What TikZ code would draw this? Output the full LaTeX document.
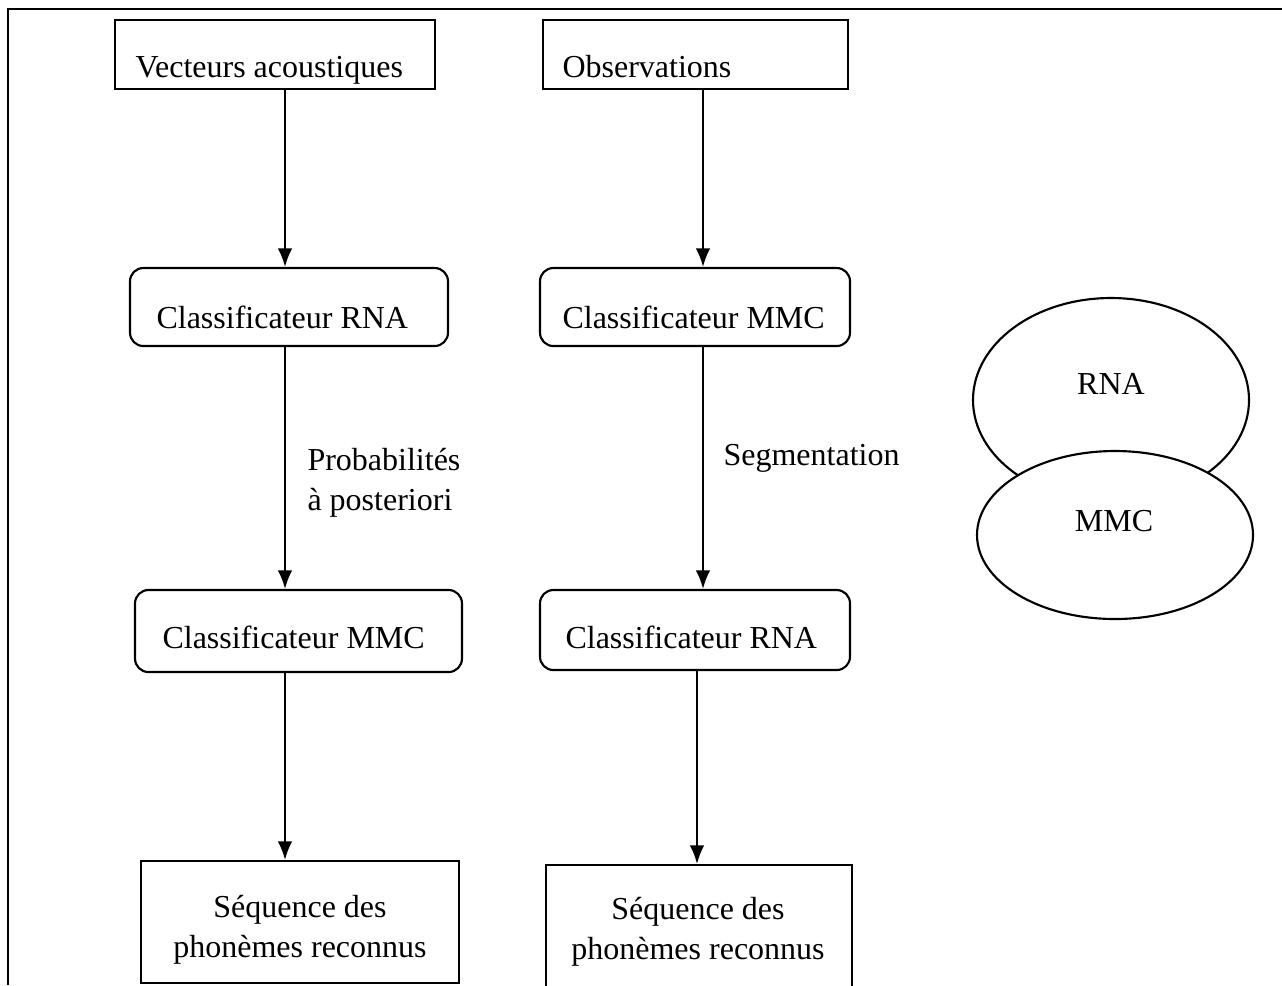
\documentclass[tikz,border=0pt]{standalone}
\usepackage{fontspec}
\setmainfont{Liberation Serif}
\usetikzlibrary{arrows.meta,positioning,shapes.geometric}

\tikzset{
  txt/.style={font=\fontsize{12}{15}\selectfont, inner sep=0pt},
  sqbox/.style={draw, line width=0.8pt, rectangle, inner sep=0pt},
  rndbox/.style={draw, line width=0.8pt, rectangle, rounded corners=5pt, inner sep=0pt},
  flow/.style={-{Latex[length=7pt,width=5.5pt]}, line width=0.8pt},
  oval/.style={draw, ellipse, line width=0.8pt, fill=white, inner sep=0pt},
}

\begin{document}
\begin{tikzpicture}[x=0.375pt, y=-0.375pt]
  \useasboundingbox (0,0) rectangle (1282,985);
  \clip (0,0) rectangle (1282,985);

  % frame
  \draw[line width=1.1pt] (1282,9) -- (8,9) -- (8,985);

  % top boxes
  \node[sqbox, minimum width=120pt, minimum height=26pt] (vec) at (275,54.5) {};
  \node[txt, anchor=base west] (vectxt) at (135,77) {Vecteurs acoustiques};
  \node[sqbox, minimum width=114.4pt, minimum height=26pt] (obs) at (695.5,54.5) {};
  \node[txt, anchor=base west] (obstxt) at (562,77) {Observations};

  % left column
  \coordinate (c1) at (285,0);
  \node[rndbox, minimum width=119.25pt, minimum height=29.25pt] (rna1) at (289,307) {};
  \node[txt, anchor=base west] (rna1txt) at (156,328) {Classificateur RNA};
  \node[rndbox, minimum width=122.6pt, minimum height=30.75pt] (mmc1) at (298.5,631) {};
  \node[txt, anchor=base west] (mmc1txt) at (162,648) {Classificateur MMC};
  \node[sqbox, minimum width=119.25pt, minimum height=45.75pt] (seq1) at (300,922) {};
  \node[txt, align=center] (seq1txt) at (300,930) {Séquence des\\phonèmes reconnus};

  % right column
  \coordinate (c2a) at (703,0);
  \coordinate (c2b) at (697,0);
  \node[rndbox, minimum width=116.25pt, minimum height=29.25pt] (mmc2) at (695,307) {};
  \node[txt, anchor=base west] (mmc2txt) at (562,328) {Classificateur MMC};
  \node[rndbox, minimum width=116.25pt, minimum height=30pt] (rna2) at (695,630) {};
  \node[txt, anchor=base west] (rna2txt) at (565,648) {Classificateur RNA};
  \node[sqbox, anchor=north, minimum width=115pt, minimum height=50pt] (seq2) at (699,864) {};
  \node[txt, align=center] (seq2txt) at (698,932) {Séquence des\\phonèmes reconnus};

  % arrows
  \draw[flow] (vec.south -| c1) -- (rna1.north -| c1);
  \draw[flow] (rna1.south -| c1) -- (mmc1.north -| c1);
  \draw[flow] (mmc1.south -| c1) -- (seq1.north -| c1);
  \draw[flow] (obs.south -| c2a) -- (mmc2.north -| c2a);
  \draw[flow] (mmc2.south -| c2a) -- (rna2.north -| c2a);
  \draw[flow] (rna2.south -| c2b) -- (seq2.north -| c2b);

  % labels
  \node[txt, anchor=west, align=left] (proba) at (307,483) {Probabilités\\à posteriori};
  \node[txt, anchor=west] (segm) at (723,458) {Segmentation};

  % hybrid
  \node[oval, minimum width=103.5pt, minimum height=76.5pt] (ovrna) at (1111,400) {};
  \node[txt] (ovrnatxt) at (1111,384) {RNA};
  \node[oval, minimum width=103.5pt, minimum height=63pt] (ovmmc) at (1115,535) {};
  \node[txt] (ovmmctxt) at (1114,521) {MMC};
\end{tikzpicture}
\end{document}
